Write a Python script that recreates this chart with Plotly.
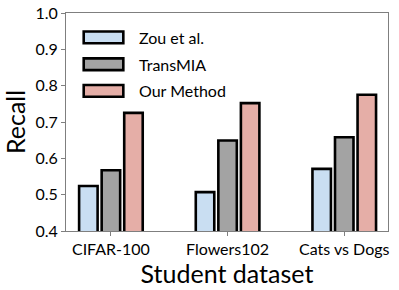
import plotly.graph_objects as go

categories = ["CIFAR-100", "Flowers102", "Cats vs Dogs"]
series_names = ["Zou et al.", "TransMIA", "Our Method"]
zou = [0.524, 0.507, 0.571]
transmia = [0.567, 0.649, 0.658]
ours = [0.725, 0.752, 0.775]
colors = ["#c9def2", "#a3a3a3", "#e5aea7"]

FONT = "Lato"
fig = go.Figure()
for name, vals, c in zip(series_names, [zou, transmia, ours], colors):
    fig.add_trace(go.Bar(
        x=categories, y=vals, name=name,
        marker=dict(color=c, line=dict(color="black", width=2.6)),
        showlegend=False,
    ))

# custom legend (wide patches like the original)
rows = [0.888, 0.765, 0.643]
for name, c, yy in zip(series_names, colors, rows):
    fig.add_shape(type="rect", xref="paper", yref="paper",
                  x0=0.055, x1=0.178, y0=yy - 0.027, y1=yy + 0.027,
                  fillcolor=c, line=dict(color="black", width=2.6))
    fig.add_annotation(xref="paper", yref="paper", x=0.22, y=yy,
                       text=name, showarrow=False, xanchor="left", yanchor="middle",
                       font=dict(family=FONT, size=16, color="black"))

axis_common = dict(showline=True, linecolor="#7f7f7f", linewidth=1, mirror=True,
                   ticks="outside", ticklen=4, tickcolor="#7f7f7f",
                   tickfont=dict(family=FONT, size=16, color="black"),
                   showgrid=False, zeroline=False, automargin=False)

fig.update_layout(
    width=399, height=290,
    margin=dict(l=66, r=11, t=13, b=59),
    paper_bgcolor="white", plot_bgcolor="white",
    barmode="group", bargap=0.42, bargroupgap=0.18,
    xaxis=dict(range=[-0.385, 2.375],
               title=dict(text="Student dataset", font=dict(family=FONT, size=25, color="black"), standoff=1),
               **axis_common),
    yaxis=dict(range=[0.4, 1.0], tickvals=[0.4, 0.5, 0.6, 0.7, 0.8, 0.9, 1.0],
               ticktext=["0.4", "0.5", "0.6", "0.7", "0.8", "0.9", "1.0"],
               title=dict(text="Recall", font=dict(family=FONT, size=25, color="black"), standoff=2),
               **axis_common),
)

fig.write_html("out.html", config={"displayModeBar": False},
               post_script="document.body.style.margin='0px';document.body.style.overflow='hidden';")
